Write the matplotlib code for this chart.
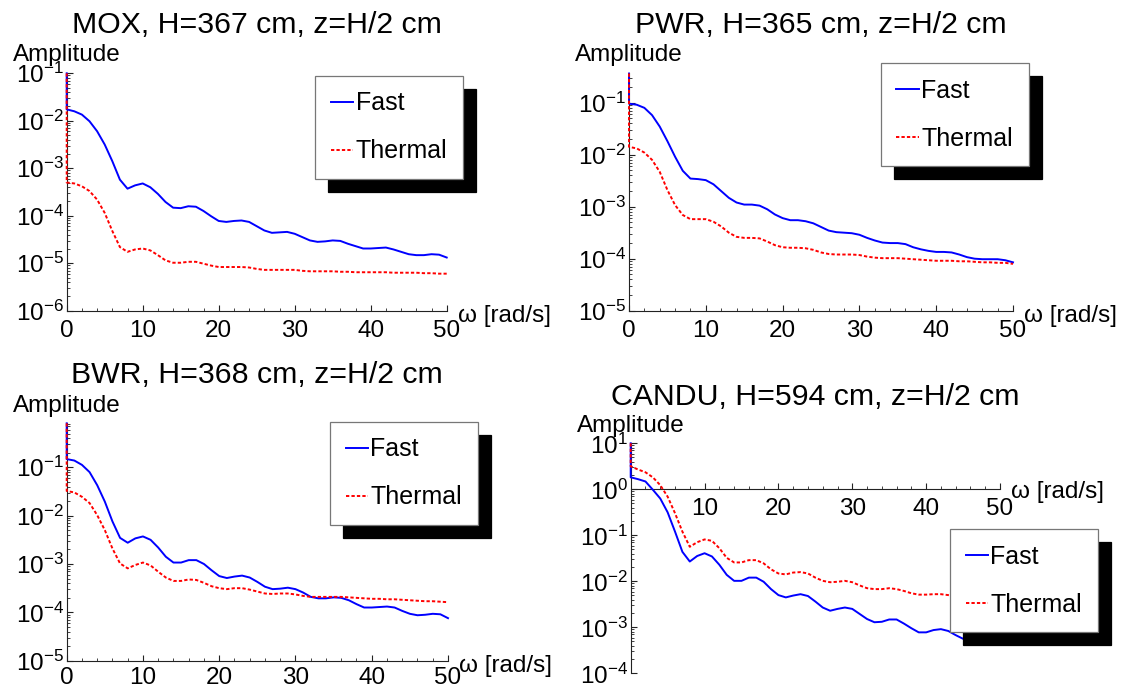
import numpy as np
import matplotlib
matplotlib.use("Agg")
import matplotlib.pyplot as plt
from matplotlib.ticker import LogLocator, LogFormatterSciNotation, MultipleLocator, NullFormatter, FixedLocator

plt.rcParams['font.family'] = ['Liberation Sans', 'DejaVu Sans']
plt.rcParams['mathtext.fontset'] = 'custom'
plt.rcParams['mathtext.rm'] = 'Liberation Sans'
plt.rcParams['mathtext.it'] = 'Liberation Sans:italic'
plt.rcParams['mathtext.bf'] = 'Liberation Sans:bold'
plt.rcParams['mathtext.default'] = 'regular'

# ---------------- data ----------------
# omega grid: first two points at 0 (vertical spike at omega=0), then 1..50 rad/s
omega = [0, 0] + list(range(1, 51))

titles = ["MOX, H=367 cm, z=H/2 cm", "PWR, H=365 cm, z=H/2 cm",
          "BWR, H=368 cm, z=H/2 cm", "CANDU, H=594 cm, z=H/2 cm"]
series_labels = ["Fast", "Thermal"]
x_ticks = [0, 10, 20, 30, 40, 50]

# log10(amplitude) values
mox_fast_log10 = [-1.0, -1.76, -1.80, -1.87, -2.01, -2.22, -2.50, -2.85, -3.24, -3.43, -3.36,
                  -3.32, -3.40, -3.54, -3.71, -3.83, -3.84, -3.80, -3.81, -3.90, -4.01,
                  -4.11, -4.13, -4.11, -4.10, -4.13, -4.22, -4.31, -4.36, -4.35, -4.34,
                  -4.38, -4.45, -4.52, -4.55, -4.54, -4.52, -4.53, -4.59, -4.64, -4.69,
                  -4.69, -4.68, -4.67, -4.71, -4.76, -4.81, -4.83, -4.83, -4.81, -4.82, -4.88]
mox_thermal_log10 = [-1.0, -3.30, -3.32, -3.38, -3.48, -3.66, -3.94, -4.32, -4.66, -4.76, -4.71,
                     -4.69, -4.73, -4.83, -4.94, -4.99, -4.99, -4.97, -4.97, -5.01, -5.05,
                     -5.08, -5.08, -5.08, -5.08, -5.09, -5.12, -5.14, -5.14, -5.14, -5.14,
                     -5.14, -5.16, -5.17, -5.17, -5.17, -5.17, -5.18, -5.18, -5.19, -5.19,
                     -5.19, -5.19, -5.19, -5.20, -5.20, -5.20, -5.20, -5.21, -5.21, -5.22, -5.22]
pwr_fast_log10 = [-0.44, -1.02, -1.04, -1.10, -1.24, -1.46, -1.74, -2.04, -2.31, -2.46, -2.47,
                  -2.49, -2.57, -2.70, -2.83, -2.92, -2.96, -2.96, -2.98, -3.05, -3.15,
                  -3.22, -3.26, -3.26, -3.28, -3.32, -3.39, -3.46, -3.49, -3.50, -3.51,
                  -3.54, -3.60, -3.65, -3.69, -3.70, -3.70, -3.72, -3.78, -3.82, -3.85,
                  -3.87, -3.87, -3.88, -3.92, -3.97, -4.00, -4.01, -4.01, -4.01, -4.03, -4.07]
pwr_thermal_log10 = [-0.44, -1.85, -1.88, -1.96, -2.10, -2.33, -2.68, -2.97, -3.16, -3.24, -3.24,
                     -3.24, -3.29, -3.38, -3.50, -3.58, -3.60, -3.60, -3.61, -3.67, -3.74,
                     -3.78, -3.79, -3.79, -3.80, -3.83, -3.88, -3.91, -3.92, -3.92, -3.92,
                     -3.93, -3.96, -3.98, -3.99, -3.99, -3.99, -4.00, -4.01, -4.02, -4.03,
                     -4.04, -4.04, -4.04, -4.05, -4.05, -4.06, -4.07, -4.07, -4.08, -4.08, -4.10]
bwr_fast_log10 = [-0.09, -0.83, -0.86, -0.95, -1.10, -1.37, -1.71, -2.12, -2.46, -2.56, -2.47,
                  -2.43, -2.50, -2.66, -2.85, -2.97, -2.97, -2.92, -2.92, -3.00, -3.13,
                  -3.25, -3.29, -3.26, -3.24, -3.28, -3.37, -3.47, -3.52, -3.51, -3.49,
                  -3.52, -3.59, -3.68, -3.71, -3.71, -3.69, -3.70, -3.75, -3.83, -3.90,
                  -3.90, -3.89, -3.88, -3.90, -3.97, -4.03, -4.06, -4.05, -4.03, -4.04, -4.12]
bwr_thermal_log10 = [-0.09, -1.49, -1.52, -1.61, -1.74, -1.99, -2.30, -2.68, -2.99, -3.09, -3.02,
                     -2.97, -3.03, -3.16, -3.28, -3.35, -3.35, -3.32, -3.33, -3.39, -3.46,
                     -3.50, -3.52, -3.50, -3.50, -3.53, -3.57, -3.61, -3.62, -3.61, -3.61,
                     -3.63, -3.66, -3.68, -3.68, -3.68, -3.68, -3.68, -3.69, -3.70, -3.71,
                     -3.72, -3.72, -3.73, -3.73, -3.74, -3.75, -3.76, -3.77, -3.77, -3.78, -3.79]
candu_fast_log10 = [1.0, 0.26, 0.22, 0.17, -0.01, -0.20, -0.50, -0.92, -1.36, -1.57, -1.45,
                    -1.39, -1.46, -1.64, -1.86, -1.99, -1.99, -1.92, -1.92, -2.01, -2.17,
                    -2.30, -2.35, -2.31, -2.28, -2.32, -2.44, -2.57, -2.64, -2.60, -2.57,
                    -2.60, -2.71, -2.82, -2.89, -2.88, -2.83, -2.83, -2.92, -3.02, -3.11,
                    -3.11, -3.06, -3.04, -3.08, -3.17, -3.25, -3.30, -3.29, -3.24, -3.24, -3.30]
candu_thermal_log10 = [1.0, 0.50, 0.43, 0.37, 0.26, 0.09, -0.16, -0.52, -0.92, -1.25, -1.15,
                       -1.09, -1.12, -1.28, -1.49, -1.59, -1.59, -1.54, -1.54, -1.61, -1.74,
                       -1.83, -1.85, -1.81, -1.80, -1.83, -1.92, -1.99, -2.02, -2.01, -1.99,
                       -2.02, -2.09, -2.15, -2.17, -2.17, -2.15, -2.17, -2.21, -2.26, -2.29,
                       -2.29, -2.28, -2.28, -2.30, -2.33, -2.36, -2.38, -2.38, -2.37, -2.38, -2.41]

# y ranges (log10 of lower/upper limits)
y_ranges_log10 = [(-6, -1), (-5, -0.436), (-5, -0.09), (-4, 1)]

fast_sets = [mox_fast_log10, pwr_fast_log10, bwr_fast_log10, candu_fast_log10]
thermal_sets = [mox_thermal_log10, pwr_thermal_log10, bwr_thermal_log10, candu_thermal_log10]

# ---------------- layout (pixels in a 1124x688 canvas) ----------------
W, H = 1124, 688
axes_px = [(66.7, 73.3, 446.7, 310.7),
           (629.0, 73.3, 1013.0, 310.7),
           (66.7, 423.3, 448.0, 660.7),
           (630.7, 443.3, 1000.0, 673.3)]
legend_px = [(315, 76), (881, 63), (330, 422), (950, 529)]
title_off_px = [40, 40, 40, 38]
ylabel_off_px = [18, 18, 17, 17]
xlabel_pad_pt = [6.5, 6.5, 4.5, 6.5]

fig = plt.figure(figsize=(W / 100, H / 100), dpi=100)

for i in range(4):
    x0, y0, x1, y1 = axes_px[i]
    ax = fig.add_axes([x0 / W, 1 - y1 / H, (x1 - x0) / W, (y1 - y0) / H])
    om = np.array(omega, dtype=float)
    fast = 10.0 ** np.array(fast_sets[i])
    therm = 10.0 ** np.array(thermal_sets[i])
    lf, = ax.plot(om, fast, color='#0000ff', lw=1.4, label=series_labels[0],
                  zorder=3, clip_on=False)
    lt, = ax.plot(om, therm, color='#ff0000', lw=1.4, linestyle=(0, (1.7, 1.1)),
                  label=series_labels[1], zorder=3, clip_on=False)
    ax.set_yscale('log')
    lo, hi = y_ranges_log10[i]
    ax.set_ylim(10.0 ** lo, 10.0 ** hi)
    ax.set_xlim(0, 50)

    for s in ('top', 'right'):
        ax.spines[s].set_visible(False)
    for s in ('left', 'bottom'):
        ax.spines[s].set_linewidth(0.8)
        ax.spines[s].set_color('#222222')
    if i == 3:
        ax.spines['bottom'].set_position(('data', 1.0))
        ax.xaxis.set_major_locator(FixedLocator(x_ticks[1:]))
    else:
        ax.xaxis.set_major_locator(FixedLocator(x_ticks))
    ax.xaxis.set_minor_locator(MultipleLocator(2))
    ax.yaxis.set_major_locator(LogLocator(base=10, numticks=20))
    ax.yaxis.set_minor_locator(LogLocator(base=10, subs=np.arange(2, 10), numticks=20))
    ax.yaxis.set_major_formatter(LogFormatterSciNotation())
    ax.yaxis.set_minor_formatter(NullFormatter())
    ax.tick_params(which='both', direction='in', colors='#222222', labelcolor='black')
    ax.tick_params(axis='x', which='major', length=4.5, width=0.8, labelsize=17.5,
                   pad=xlabel_pad_pt[i])
    ax.tick_params(axis='x', which='minor', length=2.5, width=0.6)
    ax.tick_params(axis='y', which='major', length=4.5, width=0.8, labelsize=17.5, pad=2)
    ax.tick_params(axis='y', which='minor', length=2.5, width=0.6)
    ax.patch.set_visible(False)

    h = y1 - y0
    ax.set_title(titles[i], fontsize=21.8, y=1 + title_off_px[i] / h, va='center')
    ax.text(0, 1 + ylabel_off_px[i] / h, "Amplitude", transform=ax.transAxes, ha='center',
            va='center', fontsize=17.5)
    if i == 3:
        ax.annotate("ω [rad/s]", xy=(50, 1.0), xycoords='data', xytext=(8, -2),
                    textcoords='offset points', ha='left', va='center', fontsize=17.5,
                    annotation_clip=False)
    else:
        ax.annotate("ω [rad/s]", xy=(1, 0), xycoords='axes fraction', xytext=(8, -4),
                    textcoords='offset points', ha='left', va='center', fontsize=17.5,
                    annotation_clip=False)

    lx, ly = legend_px[i]
    leg = ax.legend(handles=[lf, lt], loc='upper left',
                    bbox_to_anchor=(lx / W, 1 - ly / H), bbox_transform=fig.transFigure,
                    borderaxespad=0, frameon=True, fancybox=False, framealpha=1,
                    edgecolor='#777777', facecolor='white', fontsize=18,
                    borderpad=0.62, labelspacing=0.96, handlelength=0.9, handletextpad=0.1,
                    shadow={'ox': 9.4, 'oy': -9.4, 'color': 'black', 'alpha': 1})
    leg.get_frame().set_linewidth(0.9)
    leg.set_zorder(10)

fig.savefig("out.png", dpi=100)
